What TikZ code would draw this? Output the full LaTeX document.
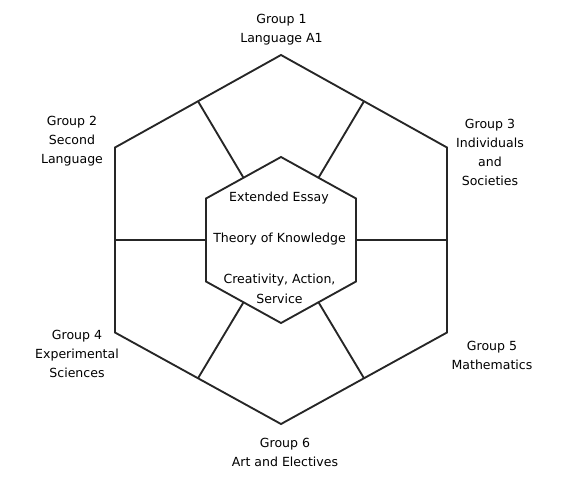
\documentclass[tikz,border=0pt]{standalone}
\usepackage{fontspec}
\setmainfont{DejaVu Sans}
\usepackage{tikz}
\usetikzlibrary{calc}
\tikzset{
  hexl/.style={black!85, line width=1.4pt, line join=miter},
  spk/.style={black!85, line width=1.4pt},
  glab/.style={font=\fontsize{9.4}{14.3}\selectfont, align=center, inner sep=0pt},
  clab/.style={font=\fontsize{9.4}{14.3}\selectfont, align=center, inner sep=0pt},
}
\begin{document}
\begin{tikzpicture}[x=0.75pt, y=-0.75pt]
\useasboundingbox (0,0) rectangle (563,479);
%---- outer hexagon
\coordinate (o1) at (281,55);
\coordinate (o2) at (447,147.5);
\coordinate (o3) at (447,332.5);
\coordinate (o4) at (281,424);
\coordinate (o5) at (115,332.5);
\coordinate (o6) at (115,147.5);
\draw[hexl] (o1) -- (o2) -- (o3) -- (o4) -- (o5) -- (o6) -- cycle;
%---- inner hexagon
\coordinate (i1) at (281,157);
\coordinate (i2) at (356,198.5);
\coordinate (i3) at (356,281.5);
\coordinate (i4) at (281,323);
\coordinate (i5) at (206,281.5);
\coordinate (i6) at (206,198.5);
\draw[hexl] (i1) -- (i2) -- (i3) -- (i4) -- (i5) -- (i6) -- cycle;
%---- spokes
\foreach \a/\b in {1/2,2/3,3/4,4/5,5/6,6/1}{
  \coordinate (om\a) at ($(o\a)!0.5!(o\b)$);
  \coordinate (im\a) at ($(i\a)!0.5!(i\b)$);
  \draw[spk] (om\a) -- (im\a);
}
%---- group labels
\node[glab] (g1) at (281.5,29.5) {Group 1\\Language A1};
\node[glab] (g2) at (72,141) {Group 2\\Second\\Language};
\node[glab] (g3) at (490,152.5) {Group 3\\Individuals\\and\\Societies};
\node[glab] (g4) at (77,353.5) {Group 4\\Experimental\\Sciences};
\node[glab] (g5) at (492,355) {Group 5\\Mathematics};
\node[glab] (g6) at (285,452) {Group 6\\Art and Electives};
%---- core labels
\node[clab] (ee) at (279,197.7) {Extended Essay};
\node[clab] (tok) at (279.5,238.7) {Theory of Knowledge};
\node[clab] (cas) at (279.5,288.8) {Creativity, Action,\\Service};
\end{tikzpicture}
\end{document}
